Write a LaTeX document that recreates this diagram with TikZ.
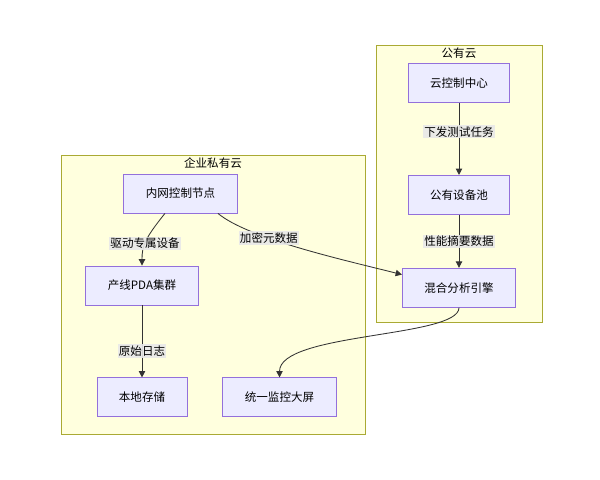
\documentclass[tikz,border=0pt]{standalone}
\usepackage{fontspec}
\setmainfont{Noto Sans CJK SC}
\usetikzlibrary{arrows.meta, positioning}

\definecolor{boxfill}{HTML}{ECECFF}
\definecolor{boxline}{HTML}{9370DB}
\definecolor{grpfill}{HTML}{FFFFDE}
\definecolor{grpline}{HTML}{AAAA33}
\definecolor{edgecol}{HTML}{333333}
\definecolor{lblfill}{HTML}{E8E8E8}

\begin{document}
\begin{tikzpicture}[
  x=0.025cm, y=-0.025cm,
  box/.style={rectangle, draw=boxline, fill=boxfill, line width=0.6pt,
              minimum height=0.975cm, inner xsep=0.55cm,
              font=\fontsize{8.2}{10}\selectfont},
  grp/.style={rectangle, draw=grpline, fill=grpfill, line width=0.6pt},
  grptitle/.style={inner sep=2pt, font=\fontsize{8.2}{10}\selectfont},
  elabel/.style={fill=lblfill, fill opacity=0.9, text opacity=1, inner sep=1pt,
                 font=\fontsize{8.2}{10}\selectfont},
  edge/.style={draw=edgecol, line width=0.6pt,
               -{Triangle[length=4.5pt, width=4.5pt]}}
]
  \useasboundingbox (0,0) rectangle (600,480);

  % groups
  \node[grp, minimum width=4.15cm, minimum height=6.925cm] (pub) at (459,183.5) {};
  \node[grptitle, below=0pt of pub.north] (pubt) {公有云};
  \node[grp, minimum width=7.6cm, minimum height=6.975cm] (pri) at (213,294.5) {};
  \node[grptitle, below=0pt of pri.north] (prit) {企业私有云};

  % public cloud
  \node[box] (cc) at (459,83) {云控制中心};
  \node[box, below=1.8cm of cc.south, anchor=north] (pool) {公有设备池};
  \node[box, below=1.325cm of pool.south, anchor=north] (mix) {混合分析引擎};

  % private cloud
  \node[box] (ctl) at (180.5,193.5) {内网控制节点};
  \node[box] (pda) at (142,285.5) {产线PDA集群};
  \node[box, below=1.8cm of pda.south, anchor=north] (store) {本地存储};
  \node[box, right=0.875cm of store] (screen) {统一监控大屏};

  \draw[edge] (cc) -- node[elabel, pos=0.4] (l1) {下发测试任务} (pool);
  \draw[edge] (pool) -- node[elabel] (l2) {性能摘要数据} (mix);
  \draw[edge] (ctl.232) .. controls +(-20,25) and +(0,-20) .. node[elabel, pos=0.55] (l3) {驱动专属设备} (pda.north);
  \draw[edge] (ctl.332) .. controls +(30,25) and +(-60,-15) .. node[elabel, pos=0.35] (l4) {加密元数据} (mix.167);
  \draw[edge] (pda) -- node[elabel, pos=0.63] (l5) {原始日志} (store);
  \draw[edge] (mix.south) .. controls +(0,30) and +(0,-45) .. (screen.north);
\end{tikzpicture}
\end{document}
